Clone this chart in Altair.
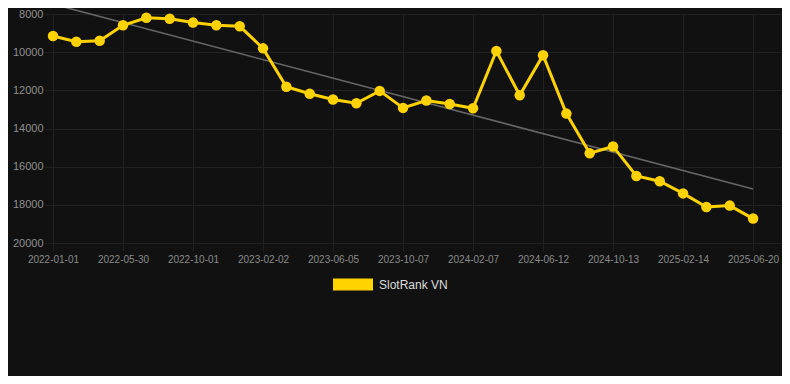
import altair as alt
import pandas as pd

dates = ["2022-01-01", "2022-02-19", "2022-04-09", "2022-05-30", "2022-07-10",
         "2022-08-21", "2022-10-01", "2022-11-11", "2022-12-22", "2023-02-02",
         "2023-03-15", "2023-04-25", "2023-06-05", "2023-07-16", "2023-08-27",
         "2023-10-07", "2023-11-17", "2023-12-28", "2024-02-07", "2024-03-19",
         "2024-05-01", "2024-06-12", "2024-07-23", "2024-09-02", "2024-10-13",
         "2024-11-23", "2025-01-03", "2025-02-14", "2025-03-28", "2025-05-09",
         "2025-06-20"]
ranks = [9150, 9450, 9400, 8590, 8200, 8250, 8450, 8590, 8640, 9800,
         11810, 12180, 12480, 12680, 12030, 12920, 12530, 12720, 12940, 9940,
         12260, 10160, 13220, 15300, 14940, 16490, 16760, 17400, 18110, 18040,
         18720]
series_name = "SlotRank VN"
y_ticks = [8000, 10000, 12000, 14000, 16000, 18000, 20000]

df = pd.DataFrame({"i": list(range(len(dates))), "date": dates, "v": ranks,
                   "series": [series_name] * len(dates)})

label_expr = "[" + ",".join(f"'{d}'" for d in dates) + "][datum.value]"
font = "Liberation Sans, Arial, sans-serif"
grid_c = "#222222"
gold = "#FFD200"

x = alt.X("i:Q", scale=alt.Scale(domain=[0, 31.24], nice=False, zero=False),
          axis=alt.Axis(values=list(range(0, 31, 3)), labelExpr=label_expr, title=None,
                        grid=True, gridColor=grid_c, domain=False, ticks=True,
                        tickColor=grid_c, tickSize=8, labelPadding=3,
                        labelColor="#8a8a8a", labelFontSize=10, labelFont=font,
                        labelFlush=False))
y = alt.Y("v:Q", scale=alt.Scale(domain=[8000, 20000], reverse=True, nice=False, zero=False),
          axis=alt.Axis(values=y_ticks, format="d", title=None, grid=True, gridColor=grid_c,
                        domain=False, ticks=True, tickColor=grid_c, tickSize=8,
                        labelPadding=2, labelColor="#8f8f8f", labelFontSize=11,
                        labelFont=font))

base = alt.Chart(df)

trend = base.transform_regression("i", "v").mark_line(
    color="#666666", strokeWidth=1.6).encode(x=x, y=y)

line = base.mark_line(strokeWidth=3, color=gold).encode(x=x, y=y)

points = base.mark_circle(size=110, opacity=1).encode(
    x=x, y=y,
    color=alt.Color("series:N", scale=alt.Scale(range=[gold]),
                    legend=alt.Legend(title=None, orient="none", legendX=280, legendY=250.5,
                                      symbolType="M-1,-0.3L1,-0.3L1,0.3L-1,0.3Z",
                                      symbolSize=1600, symbolStrokeWidth=0,
                                      symbolFillColor=gold, symbolOpacity=1,
                                      labelColor="#dddddd", labelFontSize=12,
                                      labelFont=font, labelOffset=6, padding=0)))

chart = alt.layer(trend, line, points).properties(
    width=729, height=229,
    background="#111111",
    autosize=alt.AutoSizeParams(type="none"),
    padding={"left": 45, "top": 6, "right": 0, "bottom": 133},
).configure_view(stroke=None)

chart.save("out.html", embed_options={"renderer": "svg", "actions": False})
